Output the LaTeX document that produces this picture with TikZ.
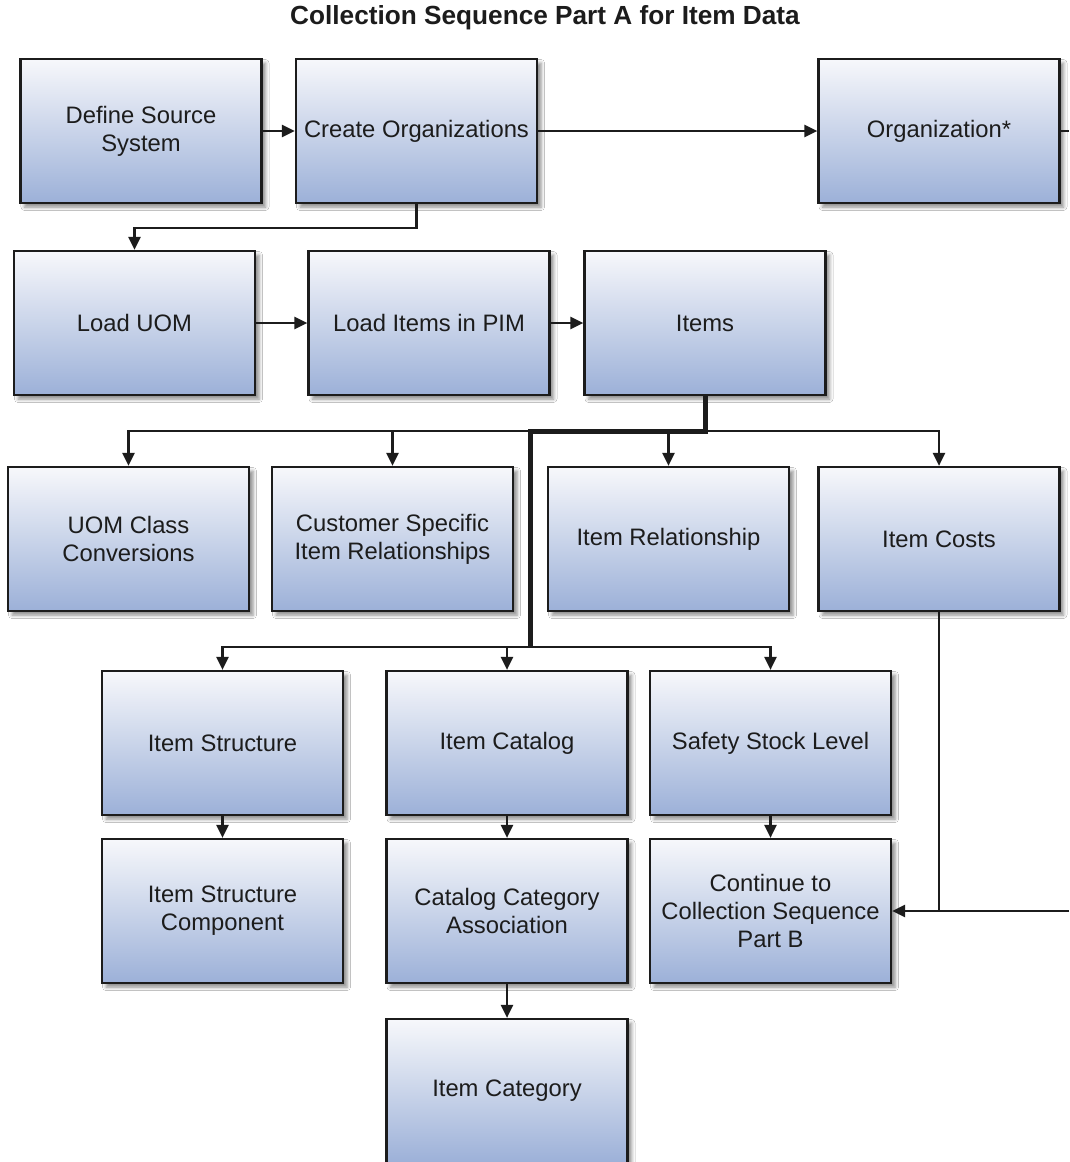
\documentclass[tikz,border=0pt]{standalone}
\usepackage{fontspec}
\setmainfont{Liberation Sans}
\usetikzlibrary{arrows.meta,shadows.blur}
\definecolor{boxtop}{RGB}{247,248,251}
\definecolor{boxbot}{RGB}{156,176,216}
\definecolor{ink}{RGB}{28,28,28}
\begin{document}
\begin{tikzpicture}[x=1pt,y=-1pt,
  box/.style={draw=ink, line width=2.2pt, rectangle, minimum width=241pt, minimum height=144pt,
    top color=boxtop, bottom color=boxbot, text=ink, align=center,
    font=\fontsize{23.8}{28}\selectfont,
    blur shadow={shadow xshift=4pt, shadow yshift=-4pt, shadow blur radius=3.5pt, shadow opacity=45}},
  conn/.style={draw=ink, line width=2.4pt},
  arr/.style={conn, -{Triangle[length=13pt,width=12pt]}},
  thick conn/.style={draw=ink, line width=5pt}]
\clip (0,0) rectangle (1069,1162);
\fill[white] (0,0) rectangle (1069,1162);
\node[font=\bfseries\fontsize{26.2}{30}\selectfont, text=ink] (title) at (545,18) {Collection Sequence Part A for Item Data};
% row 1
\node[box] (define) at (141,131) {Define Source\\System};
\node[box] (create) at (416.5,131) {Create Organizations};
\node[box] (org) at (939,131) {Organization*};
% row 2
\node[box] (loaduom) at (134.5,323) {Load UOM};
\node[box] (loaditems) at (429,323) {Load Items in PIM};
\node[box] (items) at (705,323) {Items};
% row 3
\node[box] (uomc) at (128.5,539) {UOM Class\\Conversions};
\node[box] (cust) at (392.5,539) {Customer Specific\\Item Relationships};
\node[box] (irel) at (668.5,539) {Item Relationship};
\node[box] (costs) at (939,539) {Item Costs};
% row 4
\node[box] (istr) at (222.5,743) {Item Structure};
\node[box] (icat) at (507,743) {Item Catalog};
\node[box] (safety) at (770.5,743) {Safety Stock Level};
% row 5
\node[box] (istrc) at (222.5,911) {Item Structure\\Component};
\node[box] (cca) at (507,911) {Catalog Category\\Association};
\node[box] (cont) at (770.5,911) {Continue to\\Collection Sequence\\Part B};
% row 6
\node[box] (icatg) at (507,1091) {Item Category};
% coordinates
\coordinate (c1) at (416.5,228);
\coordinate (oe) at (1069,131);
\coordinate (j1) at (705,431);
\coordinate (j2) at (530,431);
\coordinate (j3) at (530,647);
\coordinate (cj) at (939,911);
\coordinate (ce) at (1069,911);
% connectors
\draw[arr] (define) -- (create);
\draw[arr] (create) -- (org);
\draw[conn] (org.east) -- (oe);
\draw[arr] (create.south) -- (c1) -| (loaduom.north);
\draw[arr] (loaduom) -- (loaditems);
\draw[arr] (loaditems) -- (items);
\draw[arr] (j2) -| (uomc.north);
\draw[arr] (j2) -| (cust.north);
\draw[arr] (j1) -| (irel.north);
\draw[arr] (j1) -| (costs.north);
\draw[arr] (j3) -| (istr.north);
\draw[arr] (j3) -| (icat.north);
\draw[arr] (j3) -| (safety.north);
\draw[thick conn, line join=miter] (items.south) -- (j1) -- (j2) -- (j3);
\draw[arr] (istr) -- (istrc);
\draw[arr] (icat) -- (cca);
\draw[arr] (safety) -- (cont);
\draw[arr] (cca) -- (icatg);
\draw[conn] (costs.south) -- (cj);
\draw[arr] (ce) -- (cont.east);
\end{tikzpicture}
\end{document}
